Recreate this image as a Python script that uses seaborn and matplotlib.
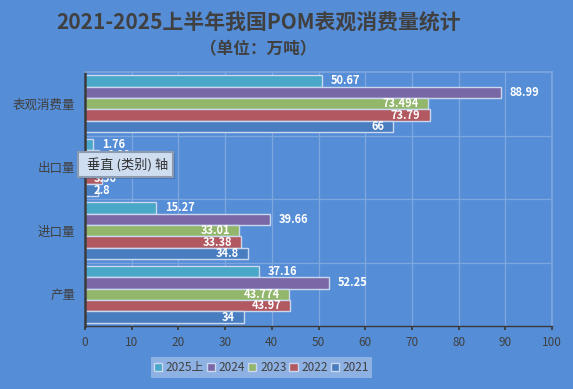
import matplotlib
matplotlib.use("Agg")
import seaborn as sns
import matplotlib.pyplot as plt
import pandas as pd
from matplotlib.patches import Rectangle, Patch

categories = ["表观消费量", "出口量", "进口量", "产量"]
years = ["2025上", "2024", "2023", "2022", "2021"]
v2025 = [50.67, 1.76, 15.27, 37.16]
v2024 = [88.99, 2.92, 39.66, 52.25]
v2023 = [73.494, 2.69, 33.01, 43.774]
v2022 = [73.79, 3.56, 33.38, 43.97]
v2021 = [66, 2.8, 34.8, 34]
series = [v2025, v2024, v2023, v2022, v2021]

colors = ["#49A8C8", "#7A68A6", "#92B66A", "#B25860", "#487DC0"]
bg = "#558DD6"
gridc = "#7FA6DE"
edge = "#C9D8EE"
dark = "#404040"

rows = []
for y, vals in zip(years, series):
    for c, v in zip(categories, vals):
        rows.append({"类别": c, "年份": y, "值": v})
df = pd.DataFrame(rows)

sns.set_theme(style="white")
plt.rcParams["font.family"] = ["Noto Sans CJK SC", "DejaVu Sans"]

fig = plt.figure(figsize=(5.73, 3.89), dpi=100, facecolor=bg)
W, H = 573, 389
ax = fig.add_axes([85 / W, 1 - 326 / H, (552 - 85) / W, (326 - 72) / H])
ax.set_facecolor(bg)

sns.barplot(data=df, y="类别", x="值", hue="年份", order=categories,
            hue_order=years, palette=colors, orient="h", width=0.9,
            saturation=1, edgecolor=edge, linewidth=1, legend=False, ax=ax)

ax.set_xlim(0, 100)
ax.set_ylim(3.5, -0.5)
ax.set_xticks(range(0, 101, 10))
ax.set_xlabel("")
ax.set_ylabel("")
ax.set_axisbelow(True)
ax.grid(axis="x", color=gridc, lw=0.9)
for yb in [0.5, 1.5, 2.5]:
    ax.axhline(yb, color=gridc, lw=0.9, zorder=0.5)

for s in ["top", "right"]:
    ax.spines[s].set_color(gridc)
ax.spines["left"].set_color("#3A3A3A")
ax.spines["left"].set_linewidth(1.8)
ax.spines["bottom"].set_color("#3A3A3A")
ax.spines["bottom"].set_linewidth(1)
ax.tick_params(axis="x", length=3, color="#3A3A3A", labelcolor=dark,
               labelsize=8.5, pad=4, bottom=True)
ax.tick_params(axis="y", length=0, labelcolor=dark, labelsize=9, pad=7)

# data labels: first two series outside end, others inside end
for i, cont in enumerate(ax.containers):
    for bar, v in zip(cont, series[i]):
        yc = bar.get_y() + bar.get_height() / 2
        txt = f"{v:g}"
        if i < 2:
            ax.annotate(txt, (bar.get_width(), yc), xytext=(9, 0),
                        textcoords="offset pixels", ha="left", va="center",
                        color="white", fontsize=8, fontweight="bold")
        elif v < 10:
            ax.annotate(txt, (0, yc), xytext=(9, 0),
                        textcoords="offset pixels", ha="left", va="center",
                        color="white", fontsize=8, fontweight="bold")
        else:
            ax.annotate(txt, (bar.get_width(), yc), xytext=(-9, 0),
                        textcoords="offset pixels", ha="right", va="center",
                        color="white", fontsize=8, fontweight="bold")

fig.text(258.5 / W, 1 - 23 / H, "2021-2025上半年我国POM表观消费量统计",
         ha="center", va="center", fontsize=15, fontweight="bold", color=dark)
fig.text(258.5 / W, 1 - 49 / H, "（单位：万吨）",
         ha="center", va="center", fontsize=12, fontweight="bold", color=dark)

handles = [Patch(facecolor=c, edgecolor=edge) for c in colors]
leg = fig.legend(handles, years, loc="center",
                 bbox_to_anchor=(261.5 / W, 1 - 367.5 / H), ncol=5,
                 frameon=True, facecolor="#8EB1E3", edgecolor="none",
                 framealpha=1, fontsize=8.5, handlelength=0.7,
                 handleheight=0.7, handletextpad=0.3, columnspacing=0.25,
                 borderpad=0.3, borderaxespad=0, fancybox=False)
for t in leg.get_texts():
    t.set_color(dark)

# tooltip overlay seen in the reference
fig.add_artist(Rectangle((80 / W, 1 - 179 / H), 95 / W, 25 / H,
                         transform=fig.transFigure, facecolor="#2F4F80",
                         alpha=0.35, edgecolor="none", zorder=10))
fig.add_artist(Rectangle((78 / W, 1 - 177 / H), 95 / W, 25 / H,
                         transform=fig.transFigure, facecolor="#CFDDF1",
                         edgecolor="#8C9BB0", lw=1.5, zorder=11))
fig.text(87 / W, 1 - 165 / H, "垂直 (类别) 轴", ha="left", va="center",
         fontsize=9.5, color="#303030", zorder=12)

fig.savefig("out.png", dpi=100, facecolor=bg)
